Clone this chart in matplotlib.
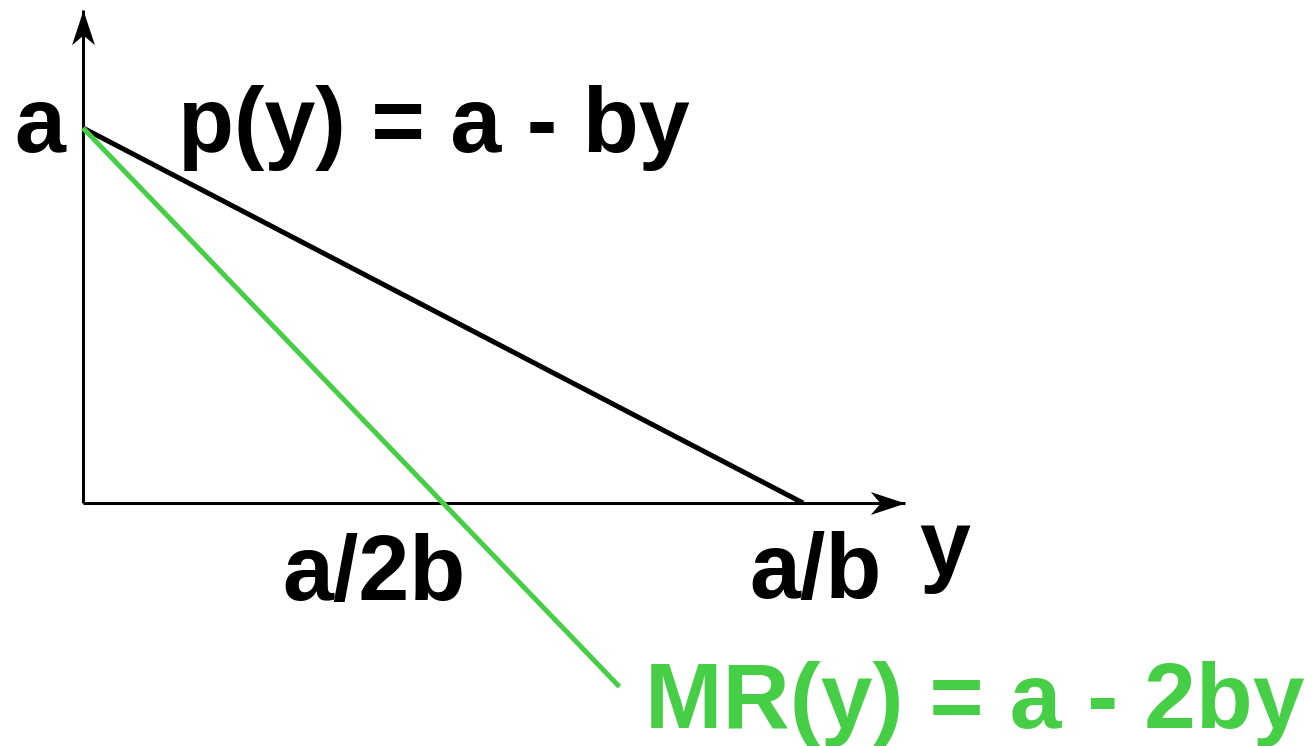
import numpy as np
import matplotlib
matplotlib.use("Agg")
import matplotlib.pyplot as plt
from matplotlib.path import Path

# parameters of the linear demand curve (normalised)
a = 1.0
b = 1.0

# quantity range for each curve
y_demand = [0.0, a / b]
y_mr = [0.0, 0.745 * a / b]

# tick labels on the axes
label_a = "a"
label_half = "a/2b"
label_full = "a/b"
label_y = "y"
label_p = "p(y) = a - by"
label_mr = "MR(y) = a - 2by"

green = "#46cf46"

plt.rcParams['font.family'] = ['Liberation Sans', 'DejaVu Sans']
plt.rcParams['font.weight'] = 'bold'

fig = plt.figure(figsize=(13.12, 7.46), dpi=100)
ax = fig.add_axes([0, 0, 1, 1])
ax.set_xlim(-0.1153, 1.7069)
ax.set_ylim(-0.648, 1.3413)
ax.axis("off")

# arrow head shaped marker (tip at origin, pointing right)
head = Path([(0, 0), (-1, 0.33), (-0.72, 0), (-1, -0.33), (0, 0)],
            [Path.MOVETO, Path.LINETO, Path.LINETO, Path.LINETO, Path.CLOSEPOLY])

# axes
x_end = 1.1417
y_end = 1.315
ax.plot([0, x_end], [0, 0], color="black", lw=2.2, solid_capstyle="butt")
ax.plot([0, 0], [0, y_end], color="black", lw=2.2, solid_capstyle="butt")
ax.plot([x_end], [0], marker=head, markersize=50, color="black", mew=0)
ax.plot([0], [y_end], marker=matplotlib.markers.MarkerStyle(head).rotated(deg=90),
        markersize=50, color="black", mew=0)

# demand and marginal revenue
yd = np.array(y_demand)
ym = np.array(y_mr)
ax.plot(yd, a - b * yd, color="black", lw=3.6, solid_capstyle="butt")
ax.plot(ym, a - 2 * b * ym, color=green, lw=3.6, solid_capstyle="butt")

fs = 66
ax.text(-0.025, 0.936, label_a, fontsize=fs, fontweight="bold", ha="right", va="baseline")
ax.text(0.132, 0.936, label_p, fontsize=fs, fontweight="bold", ha="left", va="baseline")
ax.text(a / (2 * b) - 0.096, -0.259, label_half, fontsize=fs, fontweight="bold",
        ha="center", va="baseline")
ax.text(a / b + 0.017, -0.253, label_full, fontsize=fs, fontweight="bold",
        ha="center", va="baseline")
ax.text(1.197, -0.193, label_y, fontsize=fs, fontweight="bold", ha="center", va="baseline")
ax.text(0.78, -0.6, label_mr, fontsize=67, fontweight="bold", color=green,
        ha="left", va="baseline")

fig.savefig("out.png", dpi=100)
